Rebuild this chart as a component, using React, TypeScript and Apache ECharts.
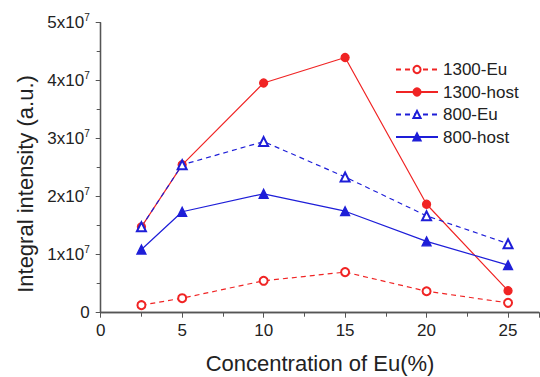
import React, { useEffect, useRef } from "react";
import * as echarts from "echarts";

const concentrations = [2.5, 5, 10, 15, 20, 25];
const eu1300 = [0.13e7, 0.25e7, 0.55e7, 0.70e7, 0.37e7, 0.17e7];
const host1300 = [1.48e7, 2.55e7, 3.96e7, 4.40e7, 1.87e7, 0.38e7];
const eu800 = [1.48e7, 2.55e7, 2.95e7, 2.34e7, 1.67e7, 1.19e7];
const host800 = [1.09e7, 1.74e7, 2.05e7, 1.75e7, 1.23e7, 0.82e7];
const seriesNames = ["1300-Eu", "1300-host", "800-Eu", "800-host"];
const xTitle = "Concentration of Eu(%)";
const yTitle = "Integral intensity (a.u.)";

const FONT = "'Liberation Sans', Arial, sans-serif";
const RED = "#f02424";
const BLUE = "#1e1ed8";
const AXIS = "#555555";

const pair = (ys: number[]) => concentrations.map((x, i) => [x, ys[i]]);

export default function App() {
  const ref = useRef<HTMLDivElement>(null);
  useEffect(() => {
    document.body.style.margin = "0";
    const chart = echarts.init(ref.current!, null, { renderer: "svg" });
    const axisLine = { show: true, lineStyle: { color: AXIS, width: 1.3 } };
    const mk = (
      name: string,
      ys: number[],
      color: string,
      symbol: string,
      dashed: boolean,
      size: number
    ) => ({
      name,
      type: "line",
      data: pair(ys),
      symbol,
      symbolSize: size,
      showSymbol: true,
      lineStyle: { color, width: 1.2, type: dashed ? [5, 4] : "solid" },
      itemStyle: { color, borderColor: color, borderWidth: 1.3 },
      z: 3,
    });
    const mirrorTicks = {
      show: true,
      inside: true,
      length: 0,
      lineStyle: { color: AXIS, width: 0 },
    };
    chart.setOption({
      animation: false,
      textStyle: { fontFamily: FONT },
      grid: { left: 100.7, top: 22.7, right: 1, bottom: 64.3, containLabel: false },
      legend: {
        orient: "vertical",
        left: 390,
        top: 56,
        itemWidth: 42,
        itemHeight: 9,
        itemGap: 5.5,
        data: seriesNames,
        textStyle: { fontSize: 17, color: "#222", fontFamily: FONT },
      },
      xAxis: [
        {
          type: "value",
          min: 0,
          max: 26.9,
          interval: 5,
          axisLine,
          splitLine: { show: false },
          axisTick: { show: true, length: 5, lineStyle: { color: AXIS } },
          minorTick: { show: true, splitNumber: 2, length: 3, lineStyle: { color: AXIS } },
          axisLabel: { fontSize: 17, color: "#222", margin: 9, fontFamily: FONT, showMaxLabel: false },
        },
        {
          type: "value",
          position: "top",
          min: 0,
          max: 26.9,
          interval: 5,
          axisLine,
          splitLine: { show: false },
          axisTick: mirrorTicks,
          minorTick: { show: true, splitNumber: 2, length: 4, lineStyle: { color: AXIS } },
          axisLabel: { show: false },
        },
      ],
      yAxis: [
        {
          type: "value",
          min: 0,
          max: 5e7,
          interval: 1e7,
          axisLine,
          splitLine: { show: false },
          axisTick: { show: true, length: 5, lineStyle: { color: AXIS } },
          minorTick: { show: true, splitNumber: 2, length: 3, lineStyle: { color: AXIS } },
          axisLabel: {
            margin: 11,
            color: "#222",
            fontFamily: FONT,
            formatter: (v: number) =>
              v === 0 ? "{b|0}" : `{b|${Math.round(v / 1e7)}x10}{s|7}`,
            rich: {
              b: { fontSize: 17, color: "#222", fontFamily: FONT, lineHeight: 20 },
              s: { fontSize: 10, color: "#222", fontFamily: FONT, verticalAlign: "top", lineHeight: 20, padding: [0, 0, 8, 0] },
            },
          },
        },
        {
          type: "value",
          position: "right",
          min: 0,
          max: 5e7,
          interval: 1e7,
          axisLine,
          splitLine: { show: false },
          axisTick: mirrorTicks,
          minorTick: { show: true, splitNumber: 2, length: 4, lineStyle: { color: AXIS } },
          axisLabel: { show: false },
        },
      ],
      graphic: [
        {
          type: "text",
          x: 320,
          y: 363,
          style: {
            text: xTitle,
            fontSize: 22,
            fontFamily: FONT,
            fill: "#222",
            textAlign: "center",
            textVerticalAlign: "middle",
          },
        },
        {
          type: "text",
          x: 25,
          y: 184,
          rotation: Math.PI / 2,
          style: {
            text: yTitle,
            fontSize: 22,
            fontFamily: FONT,
            fill: "#222",
            textAlign: "center",
            textVerticalAlign: "middle",
          },
        },
      ],
      series: [
        mk(seriesNames[0], eu1300, RED, "emptyCircle", true, 8),
        mk(seriesNames[1], host1300, RED, "circle", false, 8),
        mk(seriesNames[2], eu800, BLUE, "emptyTriangle", true, 9),
        mk(seriesNames[3], host800, BLUE, "triangle", false, 9),
      ],
    });
    return () => chart.dispose();
  }, []);
  return <div ref={ref} style={{ width: 540, height: 377, position: "absolute", left: 0, top: 0 }} />;
}
